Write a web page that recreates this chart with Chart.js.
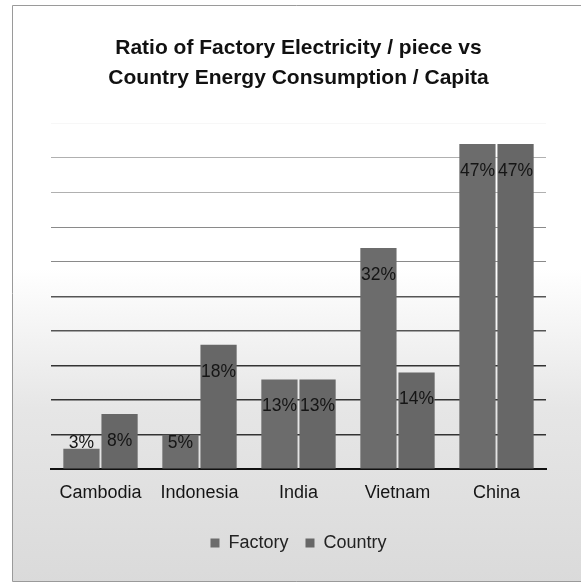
<!DOCTYPE html>
<html>
<head>
<meta charset="utf-8">
<script src="https://cdn.jsdelivr.net/npm/chart.js@4.4.1/dist/chart.umd.min.js"></script>
<style>
  html, body { margin: 0; padding: 0; background: #ffffff; }
  #wrap { width: 581px; height: 584px; }
</style>
</head>
<body>
<div id="wrap"><canvas id="chart" width="581" height="584"></canvas></div>
<script>
// Chart data
const categories = ['Cambodia', 'Indonesia', 'India', 'Vietnam', 'China'];
const factoryValues = [3, 5, 13, 32, 47];
const countryValues = [8, 18, 13, 14, 47];
const seriesNames = ['Factory', 'Country'];
const titleLines = ['Ratio of Factory Electricity / piece vs', 'Country Energy Consumption / Capita'];
const yMax = 50;
const yStep = 5;

const FONT = '"Liberation Sans", Arial, "DejaVu Sans", sans-serif';

// Frame and lightly shaded lower background
const framePlugin = {
  id: 'frame',
  beforeDraw(chart) {
    const ctx = chart.ctx;
    ctx.save();
    ctx.fillStyle = '#ffffff';
    ctx.fillRect(0, 0, chart.width, chart.height);
    const g = ctx.createLinearGradient(0, 0, 0, chart.height);
    g.addColorStop(0, '#ffffff');
    g.addColorStop(0.46, '#ffffff');
    g.addColorStop(0.7, '#e6e6e6');
    g.addColorStop(1, '#dadada');
    ctx.fillStyle = g;
    ctx.fillRect(13, 6, chart.width - 13, chart.height - 8);
    ctx.strokeStyle = '#9a9a9a';
    ctx.lineWidth = 1;
    ctx.beginPath();
    ctx.moveTo(chart.width, 5.5);
    ctx.lineTo(12.5, 5.5);
    ctx.lineTo(12.5, chart.height - 2.5);
    ctx.lineTo(chart.width, chart.height - 2.5);
    ctx.stroke();
    ctx.restore();
  }
};

// Value labels placed inside the top of each bar
const valueLabelPlugin = {
  id: 'valueLabels',
  afterDatasetsDraw(chart) {
    const ctx = chart.ctx;
    ctx.save();
    ctx.font = '17.5px ' + FONT;
    ctx.fillStyle = '#151515';
    ctx.textAlign = 'center';
    ctx.textBaseline = 'middle';
    chart.data.datasets.forEach((ds, di) => {
      const meta = chart.getDatasetMeta(di);
      meta.data.forEach((bar, i) => {
        const cy = Math.min(bar.y + 27, bar.base - 25);
        ctx.fillText(ds.data[i] + '%', bar.x, cy);
      });
    });
    ctx.restore();
  }
};

function gridColor(v) {
  if (v === 0) return '#111111';
  if (v >= 50) return 'rgba(0,0,0,0.03)';
  if (v >= 40) return '#b0b0b0';
  if (v >= 30) return '#8a8a8a';
  if (v >= 20) return '#555555';
  return '#333333';
}
function gridWidth(v) {
  if (v === 0) return 2;
  if (v >= 30) return 1;
  return 1.6;
}

new Chart(document.getElementById('chart'), {
  type: 'bar',
  data: {
    labels: categories,
    datasets: [
      { label: seriesNames[0], data: factoryValues, backgroundColor: '#6c6c6c', borderWidth: 0 },
      { label: seriesNames[1], data: countryValues, backgroundColor: '#676767', borderWidth: 0 }
    ]
  },
  options: {
    responsive: false,
    animation: false,
    devicePixelRatio: 1,
    datasets: { bar: { categoryPercentage: 0.77, barPercentage: 0.95 } },
    layout: { padding: { left: 51, right: 35, top: 34, bottom: 22 } },
    plugins: {
      title: {
        display: true,
        text: titleLines,
        color: '#111111',
        font: { family: FONT, size: 21, weight: 'bold', lineHeight: 1.4 },
        padding: { top: 0, bottom: 30.5 }
      },
      legend: {
        position: 'bottom',
        labels: {
          color: '#222222',
          font: { family: FONT, size: 18 },
          boxWidth: 9,
          boxHeight: 9,
          padding: 17
        }
      },
      tooltip: { enabled: false }
    },
    scales: {
      x: {
        grid: { display: false, drawTicks: false },
        border: { display: true, color: '#111111', width: 2 },
        ticks: { color: '#151515', font: { family: FONT, size: 18 }, padding: 13, maxRotation: 0 }
      },
      y: {
        min: 0,
        max: yMax,
        ticks: { display: false, stepSize: yStep },
        border: { display: false },
        grid: {
          drawTicks: false,
          color: (c) => gridColor(c.tick.value),
          lineWidth: (c) => gridWidth(c.tick.value)
        }
      }
    }
  },
  plugins: [framePlugin, valueLabelPlugin]
});
</script>
</body>
</html>
